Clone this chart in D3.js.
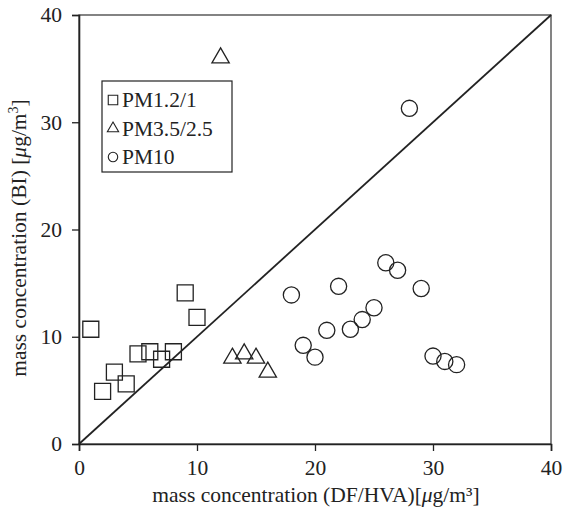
<!DOCTYPE html>
<html>
<head>
<meta charset="utf-8">
<script src="https://cdn.jsdelivr.net/npm/d3@7"></script>
<style>
  body { margin: 0; background: #fff; }
  svg { display: block; font-family: "Liberation Serif", "DejaVu Serif", serif; }
</style>
</head>
<body>
<svg id="chart" width="563" height="513"></svg>
<script>
// PM1.2/1 (squares)
const pm1X = [1, 2, 3, 4, 5, 6, 7, 8, 9, 10];
const pm1Y = [10.7, 4.9, 6.7, 5.6, 8.4, 8.6, 7.9, 8.6, 14.1, 11.8];
// PM3.5/2.5 (triangles)
const pm25X = [12, 13, 14, 15, 16];
const pm25Y = [36.0, 8.0, 8.4, 8.0, 6.7];
// PM10 (circles)
const pm10X = [18, 19, 20, 21, 22, 23, 24, 25, 26, 27, 28, 29, 30, 31, 32];
const pm10Y = [13.9, 9.2, 8.1, 10.6, 14.7, 10.7, 11.6, 12.7, 16.9, 16.2, 31.3, 14.5, 8.2, 7.7, 7.4];

const ticks = [0, 10, 20, 30, 40];
const seriesNames = ["PM1.2/1", "PM3.5/2.5", "PM10"];

const svg = d3.select("#chart");
const x = d3.scaleLinear().domain([0, 40]).range([79, 551]);
const y = d3.scaleLinear().domain([0, 40]).range([444, 15]);

// frame
svg.append("rect")
    .attr("x", x(0)).attr("y", y(40))
    .attr("width", x(40) - x(0)).attr("height", y(0) - y(40))
    .attr("fill", "none").attr("stroke", "#333").attr("stroke-width", 1.2);

// axes
const xAxis = svg.append("g").attr("transform", `translate(0,${y(0)})`)
    .call(d3.axisBottom(x).tickValues(ticks).tickSize(7).tickPadding(9));
const yAxis = svg.append("g").attr("transform", `translate(${x(0)},0)`)
    .call(d3.axisLeft(y).tickValues(ticks).tickSize(7).tickPadding(10));
[xAxis, yAxis].forEach(g => {
    g.select(".domain").attr("stroke", "#222").attr("stroke-width", 1.6);
    g.selectAll(".tick line").attr("stroke", "#222").attr("stroke-width", 1.3);
    g.selectAll(".tick text")
        .attr("font-family", "Liberation Serif, serif")
        .attr("font-size", 21.5).attr("fill", "#222");
});

// 1:1 line
svg.append("line")
    .attr("x1", x(0)).attr("y1", y(0))
    .attr("x2", x(40)).attr("y2", y(40))
    .attr("stroke", "#222").attr("stroke-width", 1.8);

const sym = (type, size) => d3.symbol().type(type).size(size)();
const markerStyle = sel => sel.attr("fill", "none").attr("stroke", "#222").attr("stroke-width", 1.3);

function plot(xs, ys, type, size) {
    svg.append("g").selectAll("path")
        .data(xs.map((v, i) => [v, ys[i]]))
        .join("path")
        .attr("d", sym(type, size))
        .attr("transform", d => `translate(${x(d[0])},${y(d[1])})`)
        .call(markerStyle);
}
plot(pm1X, pm1Y, d3.symbolSquare, 256);
plot(pm25X, pm25Y, d3.symbolTriangle, 130);
plot(pm10X, pm10Y, d3.symbolCircle, 205);

// legend
const lg = svg.append("g");
lg.append("rect").attr("x", 102).attr("y", 81).attr("width", 130).attr("height", 91)
    .attr("fill", "#fff").attr("stroke", "#222").attr("stroke-width", 1.2);
const legendSyms = [[d3.symbolSquare, 90], [d3.symbolTriangle, 55], [d3.symbolCircle, 70]];
seriesNames.forEach((name, i) => {
    const cy = 100 + i * 28.5;
    lg.append("path").attr("d", sym(legendSyms[i][0], legendSyms[i][1]))
        .attr("transform", `translate(113,${cy})`).call(markerStyle).attr("stroke-width", 1.1);
    lg.append("text").attr("x", 122).attr("y", cy + 7)
        .attr("font-size", 21.5).attr("fill", "#222").text(name);
});

// axis titles
const xt = svg.append("text").attr("x", 316).attr("y", 502).attr("text-anchor", "middle")
    .attr("font-size", 21.5).attr("fill", "#222");
xt.append("tspan").text("mass concentration (DF/HVA)[");
xt.append("tspan").attr("font-style", "italic").text("μ");
xt.append("tspan").text("g/m³]");

const yt = svg.append("text").attr("transform", "translate(26,238) rotate(-90)")
    .attr("text-anchor", "middle").attr("font-size", 21.5).attr("fill", "#222");
yt.append("tspan").text("mass concentration (BI) [");
yt.append("tspan").attr("font-style", "italic").text("μ");
yt.append("tspan").text("g/m");
yt.append("tspan").attr("font-size", 14).attr("dy", -8).text("3");
yt.append("tspan").attr("dy", 8).text("]");
</script>
</body>
</html>
